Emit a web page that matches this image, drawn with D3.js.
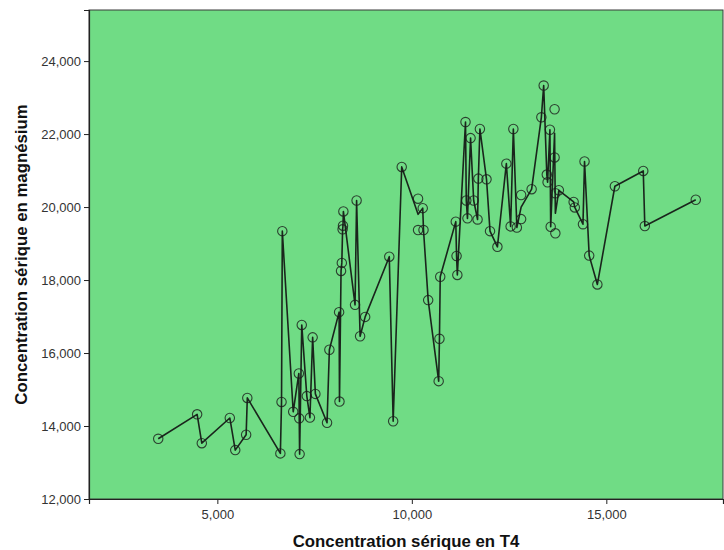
<!DOCTYPE html>
<html>
<head>
<meta charset="utf-8">
<script src="https://cdn.jsdelivr.net/npm/d3@7"></script>
<style>
  html, body { margin: 0; padding: 0; background: #ffffff; }
  svg { display: block; }
  .tick text { font-family: "Liberation Sans", Arial, sans-serif; font-size: 13px; fill: #333; }
  .axis-title { font-family: "Liberation Sans", Arial, sans-serif; font-size: 16.8px; font-weight: bold; fill: #111; }
</style>
</head>
<body>
<svg id="chart" width="724" height="550"></svg>
<script>
// Serum T4 concentration (x) and serum magnesium concentration (y), one entry per subject.
const t4 = [
  3480, 4480, 4600, 5320, 5460, 5740, 5770, 6620, 6650, 6670,
  6950, 7095, 7105, 7115, 7170, 7300, 7380, 7450, 7520, 7820,
  7880, 8130, 8140, 8180, 8200, 8220, 8230, 8240, 8540, 8580,
  8670, 8800, 9420, 9520, 9740, 10160, 10160, 10280, 10300, 10420,
  10690, 10710, 10730, 11130, 11150, 11170, 11380, 11400, 11430, 11510,
  11590, 11690, 11710, 11750, 11920, 12010, 12200, 12430, 12540, 12610,
  12700, 12810, 12810, 13080, 13330, 13390, 13470, 13490, 13550, 13570,
  13670, 13670, 13690, 13690, 13780, 14160, 14190, 14400, 14440, 14560,
  14770, 15220, 15950, 15990, 17300
];
const magnesium = [
  13650, 14320, 13530, 14220, 13340, 13760, 14770, 13250, 14660, 19340,
  14390, 15440, 14210, 13230, 16770, 14820, 14230, 16430, 14880, 14090,
  16090, 17120, 14670, 18250, 18470, 19390, 19490, 19880, 17320, 20180,
  16460, 16990, 18640, 14130, 21100, 20230, 19370, 19970, 19370, 17450,
  15230, 16390, 18090, 19600, 18660, 18140, 22330, 20180, 19690, 21890,
  20180, 19660, 20780, 22140, 20760, 19340, 18910, 21190, 19470, 22140,
  19440, 20330, 19670, 20490, 22460, 23330, 20890, 20680, 22120, 19460,
  22680, 21360, 20380, 19280, 20460, 20140, 19990, 19530, 21250, 18670,
  17880, 20570, 20990, 19480, 20200
];
const xTicks = [5000, 10000, 15000];
const yTicks = [12000, 14000, 16000, 18000, 20000, 22000, 24000];
const xTitle = "Concentration sérique en T4";
const yTitle = "Concentration sérique en magnésium";

const points = t4.map((x, i) => ({ x, y: magnesium[i] }));

// Interpolation line runs through the mean magnesium value at each distinct T4 value.
const meanLine = d3.rollups(points, v => d3.mean(v, d => d.y), d => d.x)
  .map(([x, y]) => ({ x, y }))
  .sort((a, b) => a.x - b.x);

const plot = { left: 89, top: 10, right: 723, bottom: 499 };

const x = d3.scaleLinear().domain([1700, 18000]).range([plot.left, plot.right]);
const y = d3.scaleLinear().domain([12000, 25400]).range([plot.bottom, plot.top]);

const svg = d3.select("#chart");
const fmt = d3.format(",");

// Plot area background and frame
svg.append("rect")
  .attr("x", plot.left)
  .attr("y", plot.top)
  .attr("width", plot.right - plot.left)
  .attr("height", plot.bottom - plot.top)
  .attr("fill", "#70dc85")
  .attr("stroke", "#3a3a3a")
  .attr("stroke-width", 1);

// Axes
const xAxis = svg.append("g")
  .attr("transform", `translate(0,${plot.bottom})`)
  .call(d3.axisBottom(x).tickValues(xTicks).tickFormat(fmt).tickSize(5).tickPadding(6));
const yAxis = svg.append("g")
  .attr("transform", `translate(${plot.left},0)`)
  .call(d3.axisLeft(y).tickValues(yTicks).tickFormat(fmt).tickSize(5).tickPadding(3));
[xAxis, yAxis].forEach(g => {
  g.select(".domain").attr("stroke", "#222").attr("stroke-width", 1.2);
  g.selectAll(".tick line").attr("stroke", "#222");
});

// Mean line
svg.append("path")
  .datum(meanLine)
  .attr("fill", "none")
  .attr("stroke", "#111")
  .attr("stroke-opacity", 0.9)
  .attr("stroke-width", 1.6)
  .attr("stroke-linejoin", "round")
  .attr("d", d3.line().x(d => x(d.x)).y(d => y(d.y)));

// Individual observations as hollow circles
svg.append("g")
  .selectAll("circle")
  .data(points)
  .join("circle")
  .attr("cx", d => x(d.x))
  .attr("cy", d => y(d.y))
  .attr("r", 4.7)
  .attr("fill", "none")
  .attr("stroke", "#1a1a1a")
  .attr("stroke-opacity", 0.8)
  .attr("stroke-width", 1.1);

// Axis titles
svg.append("text")
  .attr("class", "axis-title")
  .attr("x", (plot.left + plot.right) / 2)
  .attr("y", 547)
  .attr("text-anchor", "middle")
  .text(xTitle);

svg.append("text")
  .attr("class", "axis-title")
  .attr("transform", `translate(27,${(plot.top + plot.bottom) / 2}) rotate(-90)`)
  .attr("text-anchor", "middle")
  .text(yTitle);
</script>
</body>
</html>
